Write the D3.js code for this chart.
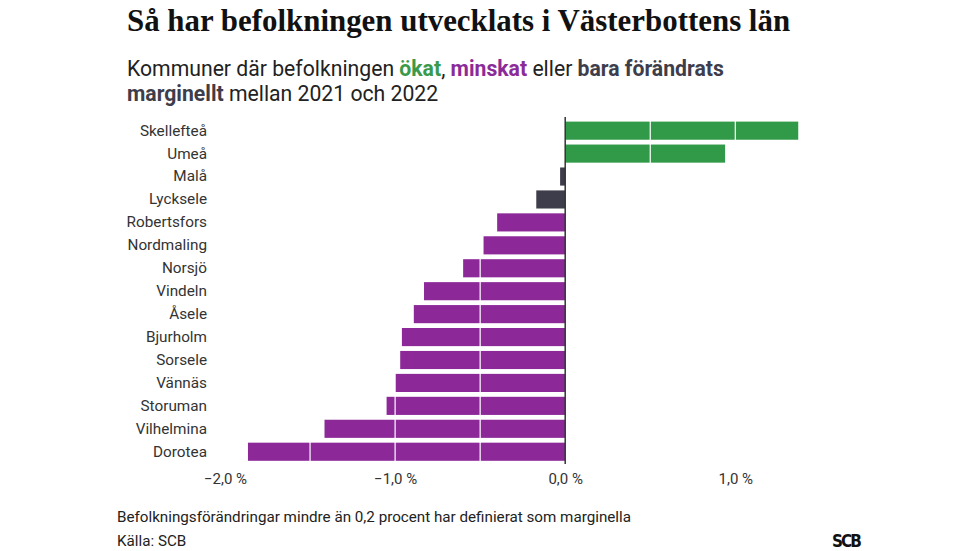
<!DOCTYPE html>
<html><head><meta charset="utf-8">
<script src="https://cdn.jsdelivr.net/npm/d3@7"></script>
<style>body{margin:0;background:#fff}</style>
</head><body>
<script>
const categories = ["Skellefteå","Umeå","Malå","Lycksele","Robertsfors","Nordmaling","Norsjö","Vindeln","Åsele","Bjurholm","Sorsele","Vännäs","Storuman","Vilhelmina","Dorotea"];
const values = [1.37,0.94,-0.03,-0.17,-0.40,-0.48,-0.60,-0.83,-0.89,-0.96,-0.97,-1.00,-1.05,-1.415,-1.865];
const groups = ["ökat","ökat","marginellt","marginellt","minskat","minskat","minskat","minskat","minskat","minskat","minskat","minskat","minskat","minskat","minskat"];
const tickValues = [-2,-1,0,1];
const gridValues = [-1.5,-1,-0.5,0.5,1];
const colors = {"ökat":"#319a48","minskat":"#8c2898","marginellt":"#3e3d4b"};

const W=980,H=551;
const svg=d3.select("body").append("svg").attr("width",W).attr("height",H).style("font-family","Roboto, sans-serif");
const x=d3.scaleLinear().domain([-2,1]).range([225,735.3]);
const y=d3.scaleBand().domain(categories).range([119.2,463.2]).paddingInner(0.21).paddingOuter(0.105);

// title
svg.append("text").attr("x",127).attr("y",31).attr("font-family","'Liberation Serif', 'DejaVu Serif', serif").attr("font-weight","bold").attr("font-size",30.9).attr("fill","#111").text("Så har befolkningen utvecklats i Västerbottens län");

const sub=svg.append("text").attr("x",127).attr("y",76).attr("font-size",21.2).attr("fill","#222");
sub.append("tspan").text("Kommuner där befolkningen ");
sub.append("tspan").attr("font-weight","bold").attr("fill","#3a9a4c").text("ökat");
sub.append("tspan").text(", ");
sub.append("tspan").attr("font-weight","bold").attr("fill","#8c2b98").text("minskat");
sub.append("tspan").text(" eller ");
sub.append("tspan").attr("font-weight","bold").attr("fill","#3e3d4b").text("bara förändrats");
const sub2=svg.append("text").attr("x",127).attr("y",101).attr("font-size",21.2).attr("fill","#222");
sub2.append("tspan").attr("font-weight","bold").attr("fill","#3e3d4b").text("marginellt");
sub2.append("tspan").text(" mellan 2021 och 2022");

// bars
svg.append("g").selectAll("rect").data(categories).join("rect")
  .attr("x",(d,i)=>x(Math.min(0,values[i])))
  .attr("width",(d,i)=>Math.abs(x(values[i])-x(0)))
  .attr("y",d=>y(d)).attr("height",y.bandwidth())
  .attr("fill",(d,i)=>colors[groups[i]]);

// white grid lines over bars
svg.append("g").selectAll("line").data(gridValues).join("line")
  .attr("x1",d=>x(d)).attr("x2",d=>x(d)).attr("y1",117).attr("y2",463)
  .attr("stroke","#fff").attr("stroke-width",1.2);

// zero line
svg.append("line").attr("x1",x(0)).attr("x2",x(0)).attr("y1",117).attr("y2",464).attr("stroke","#333").attr("stroke-width",1.5);

// y labels
const yAxis=svg.append("g").attr("transform","translate(207,0)").call(d3.axisLeft(y).tickSize(0).tickPadding(0));
yAxis.select(".domain").remove();
yAxis.selectAll("text").attr("font-size",15.3).attr("fill","#333").attr("font-family","Roboto, sans-serif");

// x axis
const fmt=d=>(d<0?"−":"")+Math.abs(d).toFixed(1).replace(".",",")+" %";
const xAxis=svg.append("g").attr("transform","translate(0,467)").call(d3.axisBottom(x).tickValues(tickValues).tickSize(0).tickPadding(6).tickFormat(fmt));
xAxis.select(".domain").remove();
xAxis.selectAll("text").attr("font-size",15).attr("fill","#333").attr("font-family","Roboto, sans-serif");

// footer
svg.append("text").attr("x",117).attr("y",522).attr("font-size",15.2).attr("fill","#222").text("Befolkningsförändringar mindre än 0,2 procent har definierat som marginella");
svg.append("text").attr("x",117).attr("y",546).attr("font-size",15.2).attr("fill","#222").text("Källa: SCB");
svg.append("text").attr("x",832).attr("y",547).attr("font-size",17).attr("font-weight","bold").attr("fill","#111").attr("font-family","'Liberation Sans Narrow','DejaVu Sans Condensed',sans-serif").attr("letter-spacing",-2).text("SCB");
</script>
</body></html>
